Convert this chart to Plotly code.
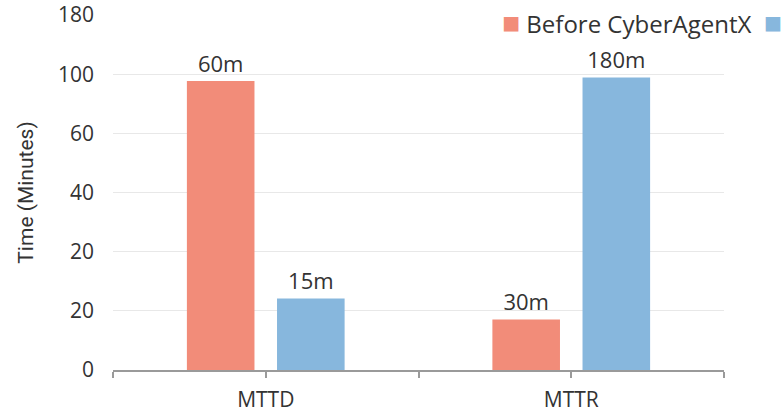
import plotly.graph_objects as go

# ---- data ----
categories = ["MTTD", "MTTR"]
before_heights = [97.7, 17.1]
cyber_heights = [24.2, 98.9]
before_labels = ["60m", "30m"]
cyber_labels = ["15m", "180m"]
ytick_vals = [0, 20, 40, 60, 80, 100, 120]
ytick_text = ["0", "20", "20", "40", "60", "100", "180"]
series_names = ["Before", "CyberAgentX"]

before_color = "#F28C79"
cyber_color = "#87B7DD"
text_color = "#333333"
font_main = "Open Sans"

xpos = list(range(len(categories)))

fig = go.Figure()
fig.add_trace(go.Bar(
    x=xpos, y=before_heights, name=series_names[0],
    marker=dict(color=before_color, line=dict(width=0)),
    text=before_labels, textposition="outside",
    textfont=dict(size=22, color=text_color, family=font_main),
    cliponaxis=False, showlegend=False,
))
fig.add_trace(go.Bar(
    x=xpos, y=cyber_heights, name=series_names[1],
    marker=dict(color=cyber_color, line=dict(width=0)),
    text=cyber_labels, textposition="outside",
    textfont=dict(size=22, color=text_color, family=font_main),
    cliponaxis=False, showlegend=False,
))

xtickvals = [-0.5, 0, 0.5, 1, 1.5]
xticktext = ["", categories[0], "", categories[1], ""]

fig.update_layout(
    width=783, height=412,
    margin=dict(l=113, r=59, t=15, b=42),
    paper_bgcolor="white", plot_bgcolor="white",
    barmode="group", bargap=0.41, bargroupgap=0.25,
    font=dict(family=font_main, color=text_color, size=20),
    uniformtext=dict(mode=False),
    xaxis=dict(
        range=[-0.5, 1.5], tickmode="array", tickvals=xtickvals, ticktext=xticktext,
        showline=True, linecolor="#9a9a9a", linewidth=1.5,
        ticks="outside", ticklen=6, tickcolor="#9a9a9a", tickwidth=1.5,
        showgrid=False, zeroline=False, automargin=False,
        tickfont=dict(size=21, color=text_color, family=font_main),
        ticklabelstandoff=4,
    ),
    yaxis=dict(
        range=[0, 120], tickmode="array", tickvals=ytick_vals, ticktext=ytick_text,
        showgrid=True, gridcolor="#e8e8e8", gridwidth=1,
        zeroline=False, showline=False, ticks="", automargin=False,
        tickfont=dict(size=21, color=text_color, family=font_main),
        ticklabelstandoff=18,
        title=dict(text="Time (Minutes)", standoff=18,
                   font=dict(size=21, color=text_color, family="Roboto")),
    ),
    annotations=[dict(
        xref="paper", yref="paper", x=1.0, y=1.0, xanchor="right", yanchor="top",
        xshift=59, yshift=15,
        showarrow=False, borderpad=0,
        text=(f'<span style="color:{before_color};font-size:30px">■</span> {series_names[0]} '
              f'{series_names[1]}  <span style="color:{cyber_color};font-size:30px">■</span>'),
        font=dict(size=24, color=text_color, family=font_main),
    )],
)

fig.write_html("out.html")
